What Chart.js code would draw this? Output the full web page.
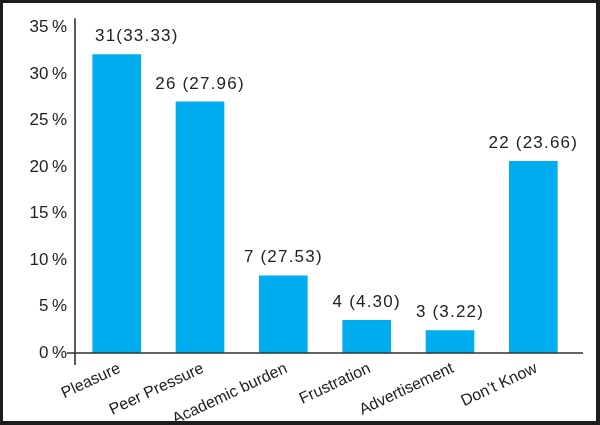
<!DOCTYPE html>
<html><head><meta charset="utf-8">
<script src="https://cdn.jsdelivr.net/npm/chart.js@4.4.1/dist/chart.umd.min.js"></script>
<style>
html,body{margin:0;padding:0;background:#fff;}
#wrap{position:relative;width:600px;height:425px;overflow:hidden;}
#frame{position:absolute;left:0;top:0;width:600px;height:425px;box-sizing:border-box;border-style:solid;border-color:#1c1c1c;border-width:3px 4px 4px 3px;pointer-events:none;}
canvas{position:absolute;left:0;top:0;}
</style></head><body>
<div id="wrap"><canvas id="c" width="600" height="425"></canvas><div id="frame"></div></div>
<script>
// ---- data ----
const categories = ["Pleasure", "Peer Pressure", "Academic burden", "Frustration", "Advertisement", "Don\u2019t Know"];
const percentValues = [32.1, 27.0, 8.3, 3.5, 2.4, 20.6];
const valueLabels = ["31(33.33)", "26 (27.96)", "7 (27.53)", "4 (4.30)", "3 (3.22)", "22 (23.66)"];
const yTickStep = 5;
const yAxisMax = 36;
const yTickSuffix = "\u2009%";

const textColor = '#222';
const fontFamily = '"Liberation Sans", Arial, Helvetica, sans-serif';

const axisLines = {
  id: 'axisLines',
  afterDatasetsDraw(chart) {
    const {ctx, chartArea: a} = chart;
    ctx.save();
    ctx.strokeStyle = '#333';
    ctx.lineWidth = 1.6;
    ctx.beginPath();
    ctx.moveTo(a.left, a.top);
    ctx.lineTo(a.left, a.bottom + 12);
    ctx.moveTo(a.left - 8, a.bottom);
    ctx.lineTo(a.right + 8, a.bottom);
    ctx.stroke();
    ctx.restore();
  }
};

const barValueLabels = {
  id: 'barValueLabels',
  afterDatasetsDraw(chart) {
    const {ctx, chartArea: a} = chart;
    const meta = chart.getDatasetMeta(0);
    ctx.save();
    ctx.fillStyle = textColor;
    ctx.font = '17px ' + fontFamily;
    ctx.textAlign = 'center';
    ctx.textBaseline = 'middle';
    try { ctx.letterSpacing = '1.2px'; } catch (e) {}
    meta.data.forEach((bar, i) => {
      const w = ctx.measureText(valueLabels[i]).width;
      const x = Math.max(bar.x, a.left + 20 + w / 2);
      ctx.fillText(valueLabels[i], x, bar.y - 18);
    });
    ctx.restore();
  }
};

new Chart(document.getElementById('c'), {
  type: 'bar',
  data: {
    labels: categories,
    datasets: [{
      data: percentValues,
      backgroundColor: '#00AEEF',
      borderWidth: 0,
      barThickness: 48
    }]
  },
  options: {
    responsive: false,
    animation: false,
    devicePixelRatio: 1,
    layout: { padding: { left: 0, top: 17, right: 25, bottom: 0 } },
    plugins: { legend: { display: false }, tooltip: { enabled: false } },
    scales: {
      x: {
        grid: { display: false, drawTicks: false },
        border: { display: false },
        ticks: {
          color: textColor,
          font: { size: 16, family: fontFamily },
          minRotation: 25,
          maxRotation: 25,
          padding: 6,
          labelOffset: 3,
          autoSkip: false
        },
        afterFit(scale) { scale.height = 72; }
      },
      y: {
        min: 0,
        max: yAxisMax,
        grid: { display: false, drawTicks: false },
        border: { display: false },
        ticks: {
          stepSize: yTickStep,
          includeBounds: false,
          color: textColor,
          padding: 8,
          font: { size: 17, family: fontFamily },
          callback: v => v + yTickSuffix
        },
        afterFit(scale) { scale.width = 75; }
      }
    }
  },
  plugins: [axisLines, barValueLabels]
});
</script>
</body></html>
